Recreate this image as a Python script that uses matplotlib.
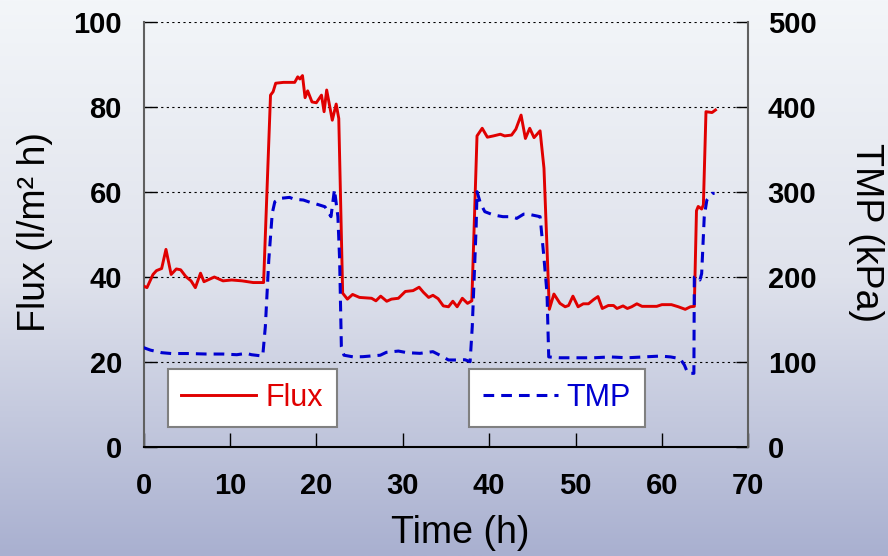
import numpy as np
import matplotlib
matplotlib.use('Agg')
import matplotlib.pyplot as plt
from matplotlib.colors import LinearSegmentedColormap

plt.rcParams['font.family'] = ['Liberation Sans', 'DejaVu Sans']

# Flux (l/m2 h) against time (h)
flux_t = [0, 0.4, 1.1, 1.5, 2.1, 2.6, 3.2, 3.8, 4.3, 4.9,
          5.5, 6.0, 6.6, 7.0, 8.2, 9.2, 10.2, 11.4, 12.7, 13.9,
          14.7, 15.0, 15.3, 16.2, 17.5, 17.85, 18.1, 18.4, 18.7, 19.0,
          19.5, 20.0, 20.6, 20.9, 21.2, 21.85, 22.3, 22.6, 23.05, 23.6,
          24.2, 25.0, 26.4, 26.9, 27.45, 28.15, 28.7, 29.5, 30.3, 31.2,
          31.9, 32.4, 33.0, 33.5, 34.1, 34.7, 35.3, 35.8, 36.3, 36.9,
          37.5, 38.0, 38.6, 39.2, 39.8, 40.5, 41.3, 41.8, 42.6, 43.1,
          43.7, 44.2, 44.7, 45.2, 45.9, 46.35, 46.97, 47.5, 48.2, 48.8,
          49.2, 49.7, 50.3, 50.9, 51.5, 52.1, 52.6, 53.1, 53.8, 54.4,
          54.8, 55.5, 56.0, 56.5, 57.1, 57.7, 59.4, 60.0, 61.1, 61.9,
          62.7, 63.3, 63.75, 64.0, 64.2, 64.6, 64.8, 65.1, 65.8, 66.2]
flux = [37.9, 37.5, 40.6, 41.5, 42.0, 46.5, 40.6, 41.9, 41.7, 40.1,
        39.1, 37.5, 40.9, 38.9, 40.0, 39.1, 39.3, 39.1, 38.7, 38.7,
        82.8, 83.6, 85.6, 85.8, 85.8, 87.1, 86.6, 87.4, 82.2, 83.8,
        81.2, 81.0, 82.8, 78.9, 84.0, 76.9, 80.7, 77.3, 36.2, 34.8,
        35.9, 35.2, 35.0, 34.4, 35.5, 34.3, 34.8, 35.0, 36.6, 36.8,
        37.6, 36.4, 35.2, 35.7, 34.9, 33.2, 33.0, 34.3, 33.0, 35.0,
        33.8, 34.4, 73.2, 75.0, 72.9, 73.2, 73.6, 73.2, 73.4, 74.8,
        78.1, 72.6, 75.0, 72.8, 74.4, 65.6, 32.4, 36.0, 33.8, 33.0,
        33.3, 35.5, 33.0, 33.7, 33.7, 34.7, 35.4, 32.6, 33.3, 33.3,
        32.6, 33.2, 32.6, 33.0, 33.7, 33.1, 33.1, 33.5, 33.5, 33.0,
        32.4, 33.0, 33.1, 55.6, 56.6, 56.0, 57.0, 78.9, 78.7, 79.3]

# TMP (kPa) against time (h)
tmp_t = [0, 0.8, 2.1, 3.2, 5.1, 7.3, 9.2, 10.8, 11.9, 12.5,
         13.8, 14.1, 14.5, 14.9, 15.2, 15.8, 16.9, 17.5, 18.5, 19.3,
         20.0, 21.0, 21.7, 22.1, 22.5, 22.7, 22.9, 23.2, 24.3, 25.4,
         26.2, 27.4, 28.1, 29.5, 30.5, 32.0, 33.5, 34.3, 35.3, 36.3,
         37.2, 37.8, 38.05, 38.5, 38.6, 39.0, 39.5, 40.5, 41.6, 42.6,
         43.2, 44.0, 44.5, 45.9, 46.3, 46.7, 46.9, 48.2, 49.7, 50.2,
         52.1, 54.0, 56.0, 57.9, 59.8, 61.0, 62.1, 62.6, 63.0, 63.7,
         63.75, 64.0, 64.4, 64.6, 64.9, 65.2, 65.8, 66.1]
tmp = [117, 114, 111, 110, 110, 109.4, 109.4, 108.6, 110.2, 108.6,
       107, 141.6, 220, 275, 288.6, 292.5, 293.7, 291.4, 290.6, 287.8,
       285.9, 282.7, 271, 303, 271, 220, 118, 108, 106, 106.3,
       107, 108, 111.4, 112.9, 111, 110.2, 112.2, 108, 102.4, 102.4,
       102.7, 100.4, 141.6, 259, 300.4, 286.7, 276.9, 273, 271, 271,
       269, 274, 274, 271, 228, 181, 106, 105, 105, 105,
       105, 106, 105, 106, 107, 106, 104, 96.5, 86.7, 86.7,
       200, 201, 196.5, 204, 271, 290.6, 298.4, 298.4]

x_ticks = [0, 10, 20, 30, 40, 50, 60, 70]
flux_ticks = [0, 20, 40, 60, 80, 100]
tmp_ticks = [0, 100, 200, 300, 400, 500]

RED = '#e00000'
BLUE = '#0000d0'

fig = plt.figure(figsize=(8.88, 5.56), dpi=100)

# gradient background
bg = fig.add_axes([0, 0, 1, 1], zorder=-10)
cmap = LinearSegmentedColormap.from_list('bg', ['#f3f6f9', '#dfe2ec', '#a9b0d0'])
bg.imshow(np.linspace(0, 1, 256).reshape(-1, 1), aspect='auto', cmap=cmap,
          extent=[0, 1, 0, 1], origin='upper')
bg.axis('off')

ax = fig.add_axes([0.1616, 0.196, 0.6811, 0.7644])
ax.patch.set_alpha(0)
ax2 = ax.twinx()

l_flux, = ax.plot(flux_t, flux, color=RED, lw=2.1, label='Flux', zorder=3)
l_tmp, = ax2.plot(tmp_t, tmp, color=BLUE, lw=2.2, dashes=(3.5, 2.3), label='TMP')

ax.set_xlim(0, 70)
ax.set_ylim(0, 100)
ax2.set_ylim(0, 500)

ax.set_xticks(x_ticks, [str(v) for v in x_ticks], fontweight='bold')
ax.set_yticks(flux_ticks, [str(v) for v in flux_ticks], fontweight='bold')
ax2.set_yticks(tmp_ticks, [str(v) for v in tmp_ticks], fontweight='bold')

ax.grid(axis='y', color='black', linestyle=(0, (2, 3)), linewidth=0.8)
ax.tick_params(axis='x', direction='in', length=10, width=1, labelsize=21, pad=18)
ax.tick_params(axis='y', direction='in', length=9, width=1, labelsize=21, pad=15.5)
ax2.tick_params(axis='y', direction='in', length=9, width=1, labelsize=21, pad=14)

for a in (ax, ax2):
    a.spines['top'].set_visible(False)
ax.spines['right'].set_visible(False)
ax2.spines['left'].set_visible(False)
ax2.spines['bottom'].set_visible(False)
ax.spines['left'].set_color('#606060')
ax.spines['left'].set_linewidth(1.5)
ax.spines['bottom'].set_linewidth(1.5)
ax2.spines['right'].set_color('#606060')
ax2.spines['right'].set_linewidth(1.5)

fig.text(0.0394, 0.5827, 'Flux (l/m² h)', rotation=90, ha='center', va='center', fontsize=27)
fig.text(0.9752, 0.5818, 'TMP (kPa)', rotation=270, ha='center', va='center', fontsize=27)
fig.text(0.518, 0.0414, 'Time (h)', ha='center', va='center', fontsize=27)

leg_kw = dict(loc='upper left', borderaxespad=0, fontsize=22, handlelength=2.45,
              handletextpad=0.3, borderpad=0.45, frameon=True, fancybox=False,
              framealpha=1, edgecolor='#808080')
leg1 = ax2.legend(handles=[l_flux], bbox_to_anchor=(0.040, 0.1835), **leg_kw)
leg1.get_texts()[0].set_color(RED)
leg1.get_frame().set_linewidth(1.5)
ax2.add_artist(leg1)
leg2 = ax2.legend(handles=[l_tmp], bbox_to_anchor=(0.538, 0.1835), **leg_kw)
leg2.get_texts()[0].set_color(BLUE)
leg2.get_frame().set_linewidth(1.5)

fig.savefig('out.png', dpi=100)
